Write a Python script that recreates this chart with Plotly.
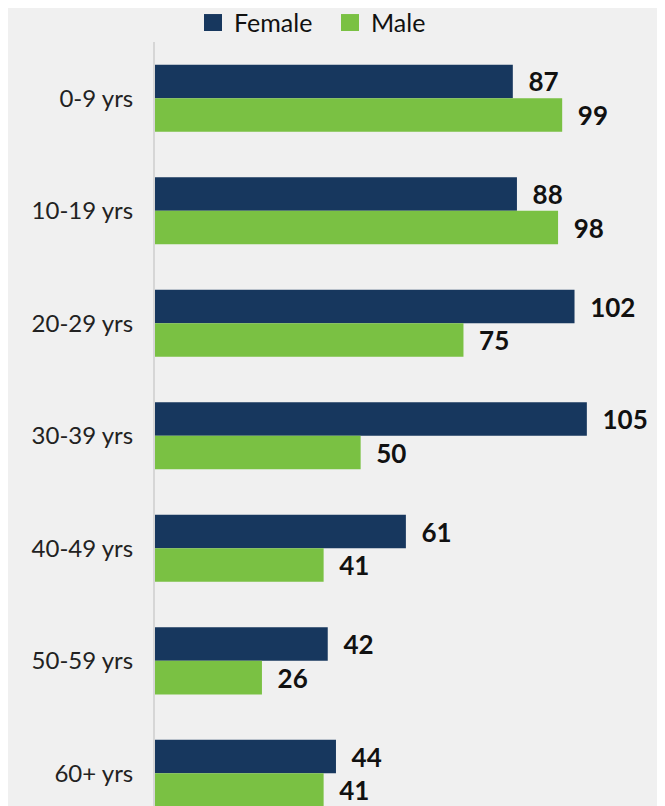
import plotly.graph_objects as go

categories = ["0-9 yrs", "10-19 yrs", "20-29 yrs", "30-39 yrs", "40-49 yrs", "50-59 yrs", "60+ yrs"]
female = [87, 88, 102, 105, 61, 42, 44]
male = [99, 98, 75, 50, 41, 26, 41]
series_names = ["Female", "Male"]

NAVY = "#17375E"
GREEN = "#7AC143"
BG = "#F0F0F0"
PAD = "\u00a0\u00a0"

fig = go.Figure()
for name, vals, col in [(series_names[0], female, NAVY), (series_names[1], male, GREEN)]:
    fig.add_trace(go.Bar(
        y=categories, x=vals, orientation="h", name=name,
        marker=dict(color=col, line=dict(width=0)),
        text=[PAD + str(v) for v in vals], textposition="outside",
        constraintext="none",
        textfont=dict(family="Lato", size=26, color="#111111", weight="bold"),
        cliponaxis=False, showlegend=False,
    ))

# Legend drawn as swatches + labels above the plot area
legend_items = [
    (series_names[0], NAVY, 0.0961, 0.151),
    (series_names[1], GREEN, 0.3647, 0.4196),
]
for name, col, sx, tx in legend_items:
    fig.add_shape(type="rect", xref="paper", yref="paper",
                  x0=sx, x1=sx + 0.0353, y0=1.0144, y1=1.0366,
                  fillcolor=col, line=dict(width=0))
    fig.add_annotation(text=name, xref="paper", yref="paper", x=tx, y=1.0262,
                       xanchor="left", yanchor="middle", showarrow=False,
                       font=dict(family="Lato", size=25, color="#111111"))

# page body has an 8px default margin; the figure is offset to compensate
fig.update_layout(
    width=657, height=798,
    paper_bgcolor=BG, plot_bgcolor=BG,
    margin=dict(l=147, r=0, t=34, b=0, autoexpand=False),
    barmode="group", bargap=0.404, bargroupgap=0,
    showlegend=False,
    xaxis=dict(range=[0, 124], visible=False, fixedrange=True),
    yaxis=dict(type="category", categoryorder="array", categoryarray=categories,
               range=[6.29, -0.5], showgrid=False, zeroline=False,
               showline=True, linecolor="#D6D6D6", linewidth=2,
               ticks="", ticklabelstandoff=15,
               tickfont=dict(family="Lato", size=24, color="#222222")),
)

fig.write_html("out.html")
